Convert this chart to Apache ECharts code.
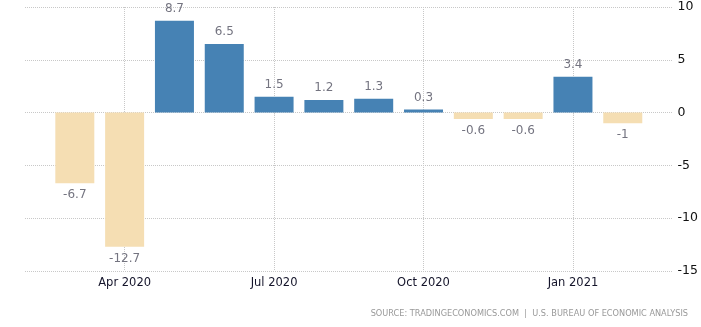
<!DOCTYPE html>
<html><head><meta charset="utf-8">
<script src="https://cdn.jsdelivr.net/npm/echarts@6/dist/echarts.min.js"></script>
<style>html,body{margin:0;padding:0;background:#fff}#c{width:701px;height:327px}</style>
</head><body><div id="c"></div>
<script>
var categories = ['Mar 2020','Apr 2020','May 2020','Jun 2020','Jul 2020','Aug 2020','Sep 2020','Oct 2020','Nov 2020','Dec 2020','Jan 2021','Feb 2021'];
var values = [-6.7, -12.7, 8.7, 6.5, 1.5, 1.2, 1.3, 0.3, -0.6, -0.6, 3.4, -1];
var shownLabels = ['Apr 2020','Jul 2020','Oct 2020','Jan 2021'];
var yTicks = [-15, -10, -5, 0, 5, 10];
var sourceText = 'SOURCE: TRADINGECONOMICS.COM  |  U.S. BUREAU OF ECONOMIC ANALYSIS';

var axisCats = [''].concat(categories).concat(['']);
var seriesData = [null].concat(values.map(function(v){
  return {value: v, itemStyle: {color: v >= 0 ? '#4682b4' : '#f5deb3'}};
})).concat([null]);
function isShown(i){ return shownLabels.indexOf(axisCats[i]) >= 0; }

var chart = echarts.init(document.getElementById('c'));
chart.setOption({
  animation: false,
  grid: {left: 25, right: 24, top: 7, bottom: 56, containLabel: false},
  xAxis: {
    type: 'category', data: axisCats, boundaryGap: false,
    axisLine: {show: false},
    axisTick: {show: true, interval: function(i){return isShown(i);}, length: 3, lineStyle: {type: 'dotted', color: '#c8c8c8'}},
    axisLabel: {interval: function(i){return isShown(i);}, color: '#14142a', fontFamily: 'DejaVu Sans', fontSize: 11.5, margin: 6},
    splitLine: {show: true, interval: function(i){return isShown(i);}, lineStyle: {type: 'dotted', color: '#c8c8c8', width: 1}}
  },
  yAxis: {
    type: 'value', position: 'right', min: yTicks[0], max: yTicks[yTicks.length-1], interval: 5,
    axisLine: {show: false}, axisTick: {show: false},
    axisLabel: {color: '#111', fontFamily: 'DejaVu Sans', fontSize: 12.5, margin: 5},
    splitLine: {lineStyle: {type: 'dotted', color: '#c8c8c8', width: 1}}
  },
  series: [{
    type: 'bar', data: seriesData, barWidth: 39,
    label: {show: true, position: 'outside', distance: 6, color: '#747480', fontFamily: 'DejaVu Sans', fontSize: 12}
  }],
  graphic: [{
    type: 'text', right: 13, top: 310,
    style: {text: sourceText, fill: '#999', fontFamily: 'DejaVu Sans', fontSize: 8.2}
  }]
});
</script></body></html>
